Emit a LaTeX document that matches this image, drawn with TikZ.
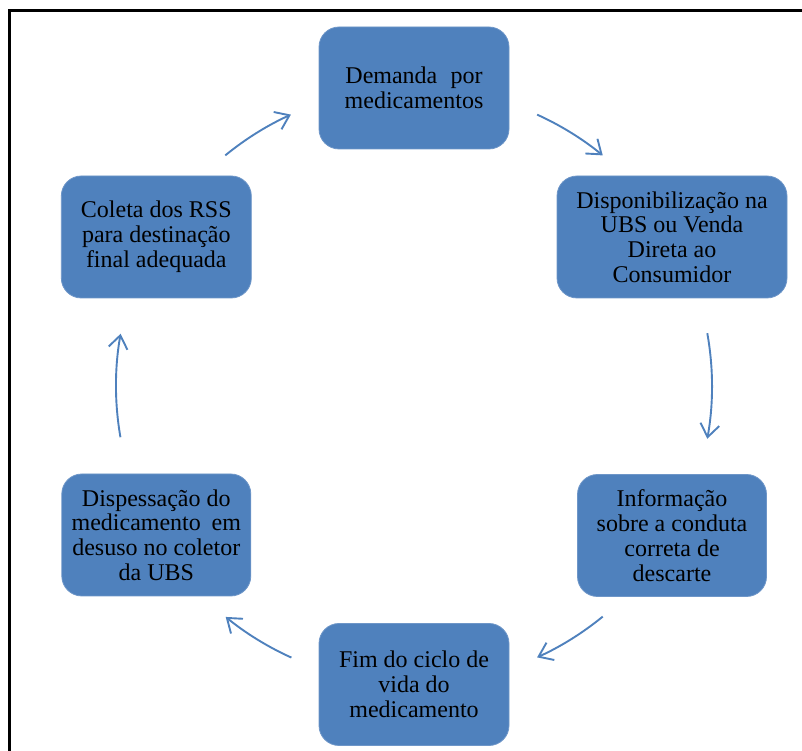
\documentclass[tikz,border=0pt]{standalone}
\usepackage{fontspec}
\setmainfont{Liberation Serif}
\usetikzlibrary{arrows.meta,calc}
\definecolor{boxblue}{RGB}{79,129,189}
\definecolor{boxedge}{RGB}{110,150,200}
\tikzset{
  stagebox/.style={rounded corners=20pt, fill=boxblue, draw=boxedge, line width=0.8pt,
    minimum height=122pt, inner sep=0pt, align=center,
    font=\fontsize{24}{24.8}\selectfont},
  cyclearrow/.style={draw=boxblue, line width=1.9pt,
    -{Straight Barb[length=13pt,width=19pt,line width=1.9pt]}},
}
\begin{document}
\begin{tikzpicture}[x=1pt,y=1pt]
\useasboundingbox (0,0) rectangle (802,751);
% frame
\coordinate (fa) at (9.5,-10);
\coordinate (fb) at (9.5,740.7);
\coordinate (fc) at (812,740.7);
\draw[line width=2.8pt] (fa) -- (fb) -- (fc);

% boxes
\node[stagebox, minimum width=190pt] (top) at (414,663) {Demanda\hspace{0.55em}por\\medicamentos};
\node[stagebox, minimum width=230pt] (rtop) at (672,514) {Disponibilização na\\UBS ou Venda\\Direta ao\\Consumidor};
\node[stagebox, minimum width=189pt] (rbot) at (672,215.5) {Informação\\sobre a conduta\\correta de\\descarte};
\node[stagebox, minimum width=190pt] (bot) at (414,66.5) {Fim do ciclo de\\vida do\\medicamento};
\node[stagebox, minimum width=189pt] (lbot) at (156.3,216) {Dispessação do\\medicamento\hspace{0.45em}em\\desuso no coletor\\da UBS};
\node[stagebox, minimum width=190pt] (ltop) at (156.3,514) {Coleta dos RSS\\para destinação\\final adequada};

% arrows along a circle
\coordinate (C) at (414,365);
\coordinate (a1) at ($(C)+(65.6:298)$);
\coordinate (a2) at ($(C)+(10.2:298)$);
\coordinate (a3) at ($(C)+(-50.7:298)$);
\coordinate (a4) at ($(C)+(-114.3:298)$);
\coordinate (a5) at ($(C)+(189.9:298)$);
\coordinate (a6) at ($(C)+(129.3:298)$);
\draw[cyclearrow] (a1) arc[start angle=65.6, end angle=50.7, radius=298];
\draw[cyclearrow] (a2) arc[start angle=10.2, end angle=-10.2, radius=298];
\draw[cyclearrow] (a3) arc[start angle=-50.7, end angle=-65.6, radius=298];
\draw[cyclearrow] (a4) arc[start angle=-114.3, end angle=-129.2, radius=298];
\draw[cyclearrow] (a5) arc[start angle=189.9, end angle=169.9, radius=298];
\draw[cyclearrow] (a6) arc[start angle=129.3, end angle=114.4, radius=298];
\end{tikzpicture}
\end{document}
